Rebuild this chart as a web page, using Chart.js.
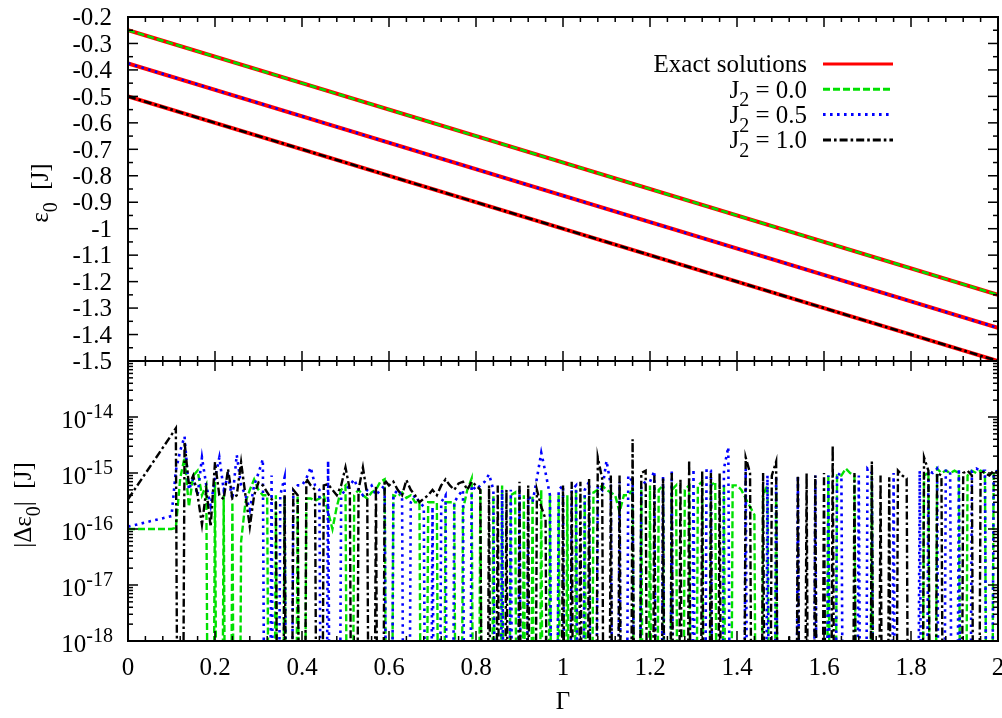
<!DOCTYPE html>
<html>
<head>
<meta charset="utf-8">
<script src="https://cdn.jsdelivr.net/npm/chart.js@4.4.1/dist/chart.umd.min.js"></script>
<style>
    html, body { margin: 0; padding: 0; background: #fff; }
    #wrap { position: relative; width: 1002px; height: 718px; }
    #wrap canvas { position: absolute; left: 0; top: 0; }
</style>
</head>
<body>
<div id="wrap">
    <canvas id="energy" width="1002" height="718"></canvas>
    <canvas id="error" width="1002" height="718"></canvas>
</div>
<script>
// ----------------------------------------------------------------------
// データ
// ----------------------------------------------------------------------

// 上段: 基底エネルギー ε0 [J] (直線なので両端のみ)
const GAMMA_ENDS = [0, 2];
const EXACT_J00 = [-0.25, -1.25];
const EXACT_J05 = [-0.375, -1.375];
const EXACT_J10 = [-0.5, -1.5];
const NUM_J00 = [-0.25, -1.25];
const NUM_J05 = [-0.375, -1.375];
const NUM_J10 = [-0.5, -1.5];

// 下段: 誤差 |Δε0| の Γ グリッド (0 と 0.10 〜 2.00, 刻み 0.01)
const GAMMA = [0];
for (let i = 10; i <= 200; i++) GAMMA.push(i / 100);

// 誤差 (単位 1e-16 J), 0 は誤差ゼロ
const ERR_J00 = [1.0,
    1.0, 1.05, 8, 19, 2.5, 9, 11, 4, 6, 0,
    7, 0, 4, 0, 3, 0, 0.6, 3, 5, 7.7,
    5, 4, 4, 0, 4, 0, 4, 0, 0, 4,
    0, 3.5, 3.5, 3.2, 3.5, 4, 2, 1.0, 2.5, 5,
    6, 0, 4, 5, 4, 3.5, 4.5, 5, 7, 7.7,
    0, 4, 3.8, 4.5, 3.6, 4, 3, 3, 0, 3,
    3, 3, 0, 3, 3, 3, 0, 2.2, 5, 8,
    0, 5, 0, 0, 4, 0, 6, 0, 4, 4.5,
    0, 4, 0, 4, 0, 5, 0, 4, 0, 4,
    0, 4, 0, 5, 0, 4, 0, 4.5, 5, 6,
    5, 4.5, 4, 2, 4, 4, 5, 0, 5, 0,
    6, 0, 5, 6, 0, 5, 6, 0, 5, 6,
    0, 6, 7, 0, 6, 7, 0, 6, 0, 6,
    6, 5, 3.5, 2.5, 1.8, 0, 4, 6, 0, 6,
    0, 0, 0, 0, 0, 0, 0, 0, 0, 0,
    0, 9, 0, 9, 9, 12, 10, 9, 0, 0,
    0, 9, 0, 0, 0, 0, 0, 0, 0, 0,
    0, 0, 0, 9, 10, 0, 12, 10, 11, 10,
    11, 10, 0, 9, 11, 10, 11, 10, 0, 10,
    11];

const ERR_J05 = [1.1,
    1.7, 11, 25, 45, 5, 8, 4, 19, 6, 2.6,
    8, 19, 5, 9, 3.4, 21, 6, 4, 2.2, 6,
    10, 17.6, 0, 9, 0, 4, 8.4, 0, 5, 6,
    6, 8, 12.6, 6, 5, 0, 16.5, 0, 0, 4,
    5, 6, 7.7, 5, 4, 5, 6, 4, 5, 6,
    0, 4, 5, 4, 0, 3, 4, 3, 2.5, 0,
    2.5, 0, 3, 4, 0, 3, 4, 5, 0, 6,
    5, 6, 7, 9.5, 5, 0, 5, 0, 5, 0,
    5, 0, 4, 3, 8, 23, 10, 4, 0, 5,
    6, 0, 5, 6, 0, 5, 7, 0, 6, 5,
    16.5, 6, 0, 7, 0, 9, 7, 0, 6, 7,
    7, 10.9, 0, 9, 0, 11.5, 0, 0, 0, 0,
    11.8, 0, 0, 11.8, 11, 0, 0, 12, 29, 0,
    0, 0, 11.8, 0, 0, 0, 0, 9, 0, 9,
    0, 0, 0, 0, 9, 0, 0, 0, 9, 0,
    0, 9, 0, 10, 9, 0, 0, 0, 9, 0,
    12, 10, 0, 0, 0, 0, 10, 0, 0, 0,
    0, 0, 11, 0, 11, 10, 12, 0, 11, 11,
    0, 12, 0, 0, 11, 12, 11, 11, 0, 10,
    11];

const ERR_J10 = [3.4,
    48, 63, 0, 36, 6, 9, 4, 1.2, 5, 1.1,
    15.6, 4, 3.4, 11.7, 3.5, 4, 15.6, 4, 1.1, 4,
    6.8, 6, 4.5, 3.4, 3, 0, 4, 0, 5, 4,
    0, 8, 6, 5, 0, 6, 6.3, 5, 4, 6,
    12.6, 5, 0, 5, 12.6, 4, 0, 6, 0, 7.5,
    6, 7, 5, 4, 7.5, 5, 4, 3, 3.5, 4,
    5, 4, 6, 7.7, 6, 5, 6.5, 7, 5, 7,
    6, 5, 0, 6, 0, 6, 0, 5, 0, 0,
    7, 0, 6, 0, 5, 2.5, 1.5, 0, 0, 0,
    6, 0, 7, 0, 7, 0, 8, 0, 19, 8,
    0, 9, 0, 9, 0, 0, 40, 0, 10, 11,
    0, 9, 0, 8, 0, 10, 0, 8, 0, 17,
    0, 0, 11, 0, 10, 0, 10, 0, 0, 0,
    0, 0, 19, 10, 0, 0, 10, 0, 9, 16,
    0, 0, 0.012, 0, 9, 0, 10, 0, 9, 0,
    10, 0, 31, 0, 0, 0, 0, 10, 0, 0,
    0, 16, 0, 9, 0, 8.4, 0, 11, 9, 8,
    0, 0, 0, 19, 11, 0, 10, 9, 0, 0,
    0, 0, 10, 11, 9, 0, 11, 10, 9, 11,
    10];

// 目盛りラベル
const ENERGY_TICKS = ['-0.2', '-0.3', '-0.4', '-0.5', '-0.6', '-0.7', '-0.8', '-0.9', '-1',
                      '-1.1', '-1.2', '-1.3', '-1.4', '-1.5'];
const GAMMA_TICKS = ['0', '0.2', '0.4', '0.6', '0.8', '1', '1.2', '1.4', '1.6', '1.8', '2'];
const ERROR_TICK_EXPONENTS = [-18, -17, -16, -15, -14];

// ----------------------------------------------------------------------
// スタイル
// ----------------------------------------------------------------------
const FONT = '"Liberation Serif", "Times New Roman", serif';
const FS = 25;
const RED = '#ff0000';
const GREEN = '#00e000';
const BLUE = '#0000ff';
const BLACK = '#000000';
const DASH_J00 = [7, 3];
const DASH_J05 = [2.6, 4.4];
const DASH_J10 = [8, 3, 2.6, 3];
const ZERO_FLOOR = 1e-30; // 誤差ゼロの点 (対数軸の下へ突き抜ける)

const LEGEND_ITEMS = [
    { parts: [{ t: 'Exact solutions' }], color: RED, width: 3, dash: [] },
    { parts: [{ t: 'J' }, { t: '2', s: 'sub' }, { t: ' = 0.0' }], color: GREEN, width: 3, dash: DASH_J00 },
    { parts: [{ t: 'J' }, { t: '2', s: 'sub' }, { t: ' = 0.5' }], color: BLUE, width: 3, dash: DASH_J05 },
    { parts: [{ t: 'J' }, { t: '2', s: 'sub' }, { t: ' = 1.0' }], color: BLACK, width: 3, dash: DASH_J10 }
];

// ----------------------------------------------------------------------
// 補助関数
// ----------------------------------------------------------------------
function toPoints(xs, ys) {
    return ys.map((y, i) => ({ x: xs[i], y: y }));
}

function toErrorPoints(vals) {
    return vals.map((v, i) => ({ x: GAMMA[i], y: v > 0 ? v * 1e-16 : ZERO_FLOOR }));
}

function setFont(ctx, size) {
    ctx.font = size + 'px ' + FONT;
}

// 添字付きテキスト (s: 'sub' | 'sup')
function richWidth(ctx, parts, size) {
    let w = 0;
    parts.forEach(p => {
        setFont(ctx, p.s ? size * 0.8 : size);
        w += ctx.measureText(p.t).width;
    });
    return w;
}

function drawRich(ctx, parts, x, baseline, align, size) {
    const w = richWidth(ctx, parts, size);
    let cx = align === 'right' ? x - w : (align === 'center' ? x - w / 2 : x);
    ctx.textAlign = 'left';
    ctx.textBaseline = 'alphabetic';
    ctx.fillStyle = '#000';
    parts.forEach(p => {
        const sz = p.s ? size * 0.8 : size;
        setFont(ctx, sz);
        const dy = p.s === 'sub' ? size * 0.35 : (p.s === 'sup' ? -size * 0.42 : 0);
        ctx.fillText(p.t, cx, baseline + dy);
        cx += ctx.measureText(p.t).width;
    });
}

function tickH(ctx, x, y, len) {
    ctx.beginPath();
    ctx.moveTo(x, y);
    ctx.lineTo(x + len, y);
    ctx.stroke();
}

function tickV(ctx, x, y, len) {
    ctx.beginPath();
    ctx.moveTo(x, y);
    ctx.lineTo(x, y + len);
    ctx.stroke();
}

// x 軸の目盛り (上下の枠に内向き)
function drawGammaTicks(ctx, chart) {
    const a = chart.chartArea;
    const xs = chart.scales.x;
    for (let i = 0; i <= 50; i++) {
        const px = xs.getPixelForValue(i * 0.04);
        const len = i % 5 === 0 ? 10 : 5;
        tickV(ctx, px, a.bottom, -len);
        tickV(ctx, px, a.top, len);
    }
}

function drawFrame(ctx, a) {
    ctx.strokeRect(a.left, a.top, a.right - a.left, a.bottom - a.top);
}

// ----------------------------------------------------------------------
// 上段の装飾 (枠, 目盛り, ラベル, 凡例)
// ----------------------------------------------------------------------
const energyDecor = {
    id: 'energyDecor',
    afterDraw(chart) {
        const ctx = chart.ctx;
        const a = chart.chartArea;
        const ys = chart.scales.y;
        ctx.save();
        ctx.strokeStyle = '#000';
        ctx.lineWidth = 1.5;

        for (let i = 0; i <= 26; i++) {
            const py = ys.getPixelForValue(-1.5 + i * 0.05);
            const len = i % 2 === 0 ? 10 : 5;
            tickH(ctx, a.left, py, len);
            tickH(ctx, a.right, py, -len);
        }
        drawGammaTicks(ctx, chart);
        ctx.lineWidth = 2;
        drawFrame(ctx, a);

        ENERGY_TICKS.forEach(lbl => {
            const py = ys.getPixelForValue(parseFloat(lbl));
            drawRich(ctx, [{ t: lbl }], 112, py + FS * 0.33, 'right', FS);
        });

        // 縦軸タイトル
        ctx.save();
        ctx.translate(40, 193);
        ctx.rotate(-Math.PI / 2);
        drawRich(ctx, [{ t: 'ε' }, { t: '0', s: 'sub' }, { t: '  [J]' }], 0, FS * 0.33, 'center', FS);
        ctx.restore();

        // 凡例
        LEGEND_ITEMS.forEach((item, i) => {
            const ry = 64 + i * 25.3;
            drawRich(ctx, item.parts, 807, ry + FS * 0.33, 'right', FS);
            ctx.save();
            ctx.strokeStyle = item.color;
            ctx.lineWidth = item.width;
            ctx.setLineDash(item.dash);
            ctx.beginPath();
            ctx.moveTo(823, ry);
            ctx.lineTo(893, ry);
            ctx.stroke();
            ctx.restore();
        });
        ctx.restore();
    }
};

// ----------------------------------------------------------------------
// 下段の装飾
// ----------------------------------------------------------------------
const errorDecor = {
    id: 'errorDecor',
    afterDraw(chart) {
        const ctx = chart.ctx;
        const a = chart.chartArea;
        const ys = chart.scales.y;
        ctx.save();
        ctx.strokeStyle = '#000';
        ctx.lineWidth = 1.5;

        for (let e = -18; e <= -14; e++) {
            for (let m = 1; m <= 9; m++) {
                const py = ys.getPixelForValue(m * Math.pow(10, e));
                const len = m === 1 ? 10 : 5;
                tickH(ctx, a.left, py, len);
                tickH(ctx, a.right, py, -len);
            }
        }
        drawGammaTicks(ctx, chart);
        ctx.lineWidth = 2;
        drawFrame(ctx, a);

        ERROR_TICK_EXPONENTS.forEach(e => {
            const py = ys.getPixelForValue(Math.pow(10, e));
            drawRich(ctx, [{ t: '10' }, { t: String(e), s: 'sup' }], 113, py + 11, 'right', FS);
        });

        GAMMA_TICKS.forEach(lbl => {
            const px = chart.scales.x.getPixelForValue(parseFloat(lbl));
            drawRich(ctx, [{ t: lbl }], px, 667 + FS * 0.33, 'center', FS);
        });

        drawRich(ctx, [{ t: 'Γ' }], 563, 701 + FS * 0.33, 'center', FS);

        ctx.save();
        ctx.translate(23, 505);
        ctx.rotate(-Math.PI / 2);
        drawRich(ctx, [{ t: '|Δε' }, { t: '0', s: 'sub' }, { t: '|  [J]' }], 0, FS * 0.33, 'center', FS);
        ctx.restore();
        ctx.restore();
    }
};

const commonOptions = {
    responsive: false,
    animation: false,
    devicePixelRatio: 1,
    events: [],
    elements: {
        point: { radius: 0 },
        line: { tension: 0, fill: false, borderCapStyle: 'butt' }
    },
    plugins: { legend: { display: false }, tooltip: { enabled: false } }
};

// ----------------------------------------------------------------------
// 上段: ε0 のグラフ
// ----------------------------------------------------------------------
new Chart(document.getElementById('energy'), {
    type: 'line',
    data: {
        datasets: [
            { label: 'J2 = 0.0', data: toPoints(GAMMA_ENDS, NUM_J00), borderColor: GREEN, borderWidth: 2.5, borderDash: DASH_J00, order: 1 },
            { label: 'J2 = 0.5', data: toPoints(GAMMA_ENDS, NUM_J05), borderColor: BLUE, borderWidth: 2.5, borderDash: DASH_J05, order: 1 },
            { label: 'J2 = 1.0', data: toPoints(GAMMA_ENDS, NUM_J10), borderColor: BLACK, borderWidth: 2.5, borderDash: DASH_J10, order: 1 },
            { label: 'Exact J2 = 0.0', data: toPoints(GAMMA_ENDS, EXACT_J00), borderColor: RED, borderWidth: 4, order: 2 },
            { label: 'Exact J2 = 0.5', data: toPoints(GAMMA_ENDS, EXACT_J05), borderColor: RED, borderWidth: 4, order: 2 },
            { label: 'Exact J2 = 1.0', data: toPoints(GAMMA_ENDS, EXACT_J10), borderColor: RED, borderWidth: 4, order: 2 }
        ]
    },
    options: Object.assign({}, commonOptions, {
        layout: { padding: { left: 128, right: 4, top: 17, bottom: 718 - 361 } },
        scales: {
            x: { type: 'linear', min: 0, max: 2, display: false },
            y: { type: 'linear', min: -1.5, max: -0.2, display: false }
        }
    }),
    plugins: [energyDecor]
});

// ----------------------------------------------------------------------
// 下段: |Δε0| のグラフ (対数軸)
// ----------------------------------------------------------------------
new Chart(document.getElementById('error'), {
    type: 'line',
    data: {
        datasets: [
            { label: 'J2 = 1.0', data: toErrorPoints(ERR_J10), borderColor: BLACK, borderWidth: 2.4, borderDash: DASH_J10, order: 1 },
            { label: 'J2 = 0.5', data: toErrorPoints(ERR_J05), borderColor: BLUE, borderWidth: 2.6, borderDash: DASH_J05, order: 2 },
            { label: 'J2 = 0.0', data: toErrorPoints(ERR_J00), borderColor: GREEN, borderWidth: 2.4, borderDash: DASH_J00, order: 3 }
        ]
    },
    options: Object.assign({}, commonOptions, {
        layout: { padding: { left: 128, right: 4, top: 361, bottom: 77 } },
        scales: {
            x: { type: 'linear', min: 0, max: 2, display: false },
            y: { type: 'logarithmic', min: 1e-18, max: 1e-13, display: false }
        }
    }),
    plugins: [errorDecor]
});
</script>
</body>
</html>
